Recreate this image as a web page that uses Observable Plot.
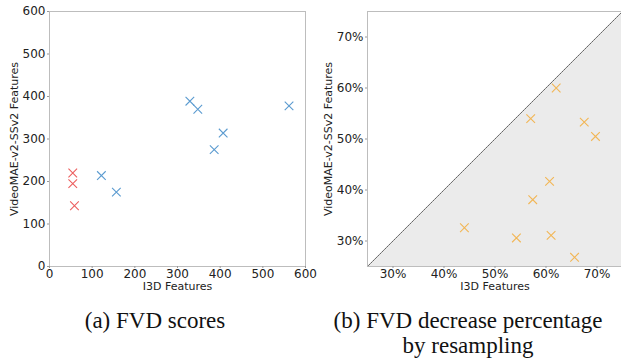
<!DOCTYPE html>
<html>
<head>
<meta charset="utf-8">
<script src="https://cdn.jsdelivr.net/npm/d3@7"></script>
<script src="https://cdn.jsdelivr.net/npm/@observablehq/plot@0.6"></script>
<style>
  html, body { margin: 0; padding: 0; background: #fff; }
  #wrap { position: relative; width: 621px; height: 358px; overflow: hidden; }
  .panel { position: absolute; top: 0; }
  .panel svg { overflow: visible; }
  .cap { position: absolute; font-family: "Liberation Serif", "Times New Roman", serif; font-size: 23px; color: #111; text-align: center; line-height: 25px; white-space: nowrap; }
</style>
</head>
<body>
<div id="wrap">
  <div id="a" class="panel" style="left:0px"></div>
  <div id="b" class="panel" style="left:310px"></div>
  <div class="cap" style="left:0px; width:310px; top:308px;">(a) FVD scores</div>
  <div class="cap" style="left:310px; width:316px; top:308px;">(b) FVD decrease percentage<br>by resampling</div>
</div>
<script>
// Panel (a): FVD scores
const redI3D   = [54.5, 54.5, 58.5];
const redVMAE  = [220, 195, 143];
const blueI3D  = [121.6, 156.7, 329, 347.6, 386, 407, 561.4];
const blueVMAE = [214, 175, 389, 370, 275, 314, 378];
const ticksA   = [0, 100, 200, 300, 400, 500, 600];

// Panel (b): FVD decrease percentage (%)
const pctI3D   = [62.0, 57.0, 67.5, 69.7, 60.7, 57.4, 44.0, 54.2, 61.0, 65.6];
const pctVMAE  = [60.0, 54.0, 53.3, 50.5, 41.7, 38.1, 32.6, 30.6, 31.1, 26.8];
const ticksB   = [30, 40, 50, 60, 70];
const domainB  = [25, 75];

const font = "DejaVu Sans, sans-serif";
const xLabel = "I3D Features";
const yLabel = "VideoMAE-v2-SSv2 Features";

const redPts  = redI3D.map((x, i) => ({x, y: redVMAE[i]}));
const bluePts = blueI3D.map((x, i) => ({x, y: blueVMAE[i]}));
const pctPts  = pctI3D.map((x, i) => ({x, y: pctVMAE[i]}));

function axes(ticks, fmt, yOff) {
  return [
    Plot.axisX({ticks, tickFormat: fmt, tickSize: 2, tickPadding: 1, stroke: "#999", fontSize: 12, label: null}),
    Plot.axisX({ticks: [], label: xLabel, labelAnchor: "center", labelArrow: "none", labelOffset: 23, fontSize: 11}),
    Plot.axisY({ticks, tickFormat: fmt, tickSize: 2, tickPadding: 2, stroke: "#999", fontSize: 12, label: null}),
    Plot.axisY({ticks: [], label: yLabel, labelAnchor: "center", labelArrow: "none", labelOffset: yOff, fontSize: 11})
  ];
}

const plotA = Plot.plot({
  width: 310, height: 300,
  marginLeft: 49, marginRight: 5, marginTop: 11, marginBottom: 34,
  style: {fontFamily: font, fontSize: "11px", color: "#222", background: "transparent", overflow: "visible"},
  x: {domain: [0, 600]},
  y: {domain: [0, 600]},
  marks: [
    Plot.frame({stroke: "#bdbdbd"}),
    ...axes(ticksA, d => String(d), 39),
    Plot.dot(redPts,  {x: "x", y: "y", symbol: "times", r: 4, stroke: "#ec5f5f", strokeWidth: 1.1}),
    Plot.dot(bluePts, {x: "x", y: "y", symbol: "times", r: 4, stroke: "#5b9bd0", strokeWidth: 1.1})
  ]
});
document.getElementById("a").appendChild(plotA);

const diag = domainB.map(v => ({x: v, y: v, base: domainB[0]}));
const plotB = Plot.plot({
  width: 311, height: 300,
  marginLeft: 57, marginRight: -1, marginTop: 11, marginBottom: 34,
  style: {fontFamily: font, fontSize: "11px", color: "#222", background: "transparent", overflow: "visible"},
  x: {domain: domainB},
  y: {domain: domainB},
  marks: [
    Plot.areaY(diag, {x: "x", y1: "base", y2: "y", fill: "#ebebeb"}),
    Plot.line(diag, {x: "x", y: "y", stroke: "#444", strokeWidth: 0.8, strokeDasharray: "1.5,1"}),
    Plot.frame({stroke: "#bdbdbd"}),
    ...axes(ticksB, d => d + "%", 43),
    Plot.dot(pctPts, {x: "x", y: "y", symbol: "times", r: 4, stroke: "#f2b655", strokeWidth: 1.1})
  ]
});
document.getElementById("b").appendChild(plotB);
</script>
</body>
</html>
